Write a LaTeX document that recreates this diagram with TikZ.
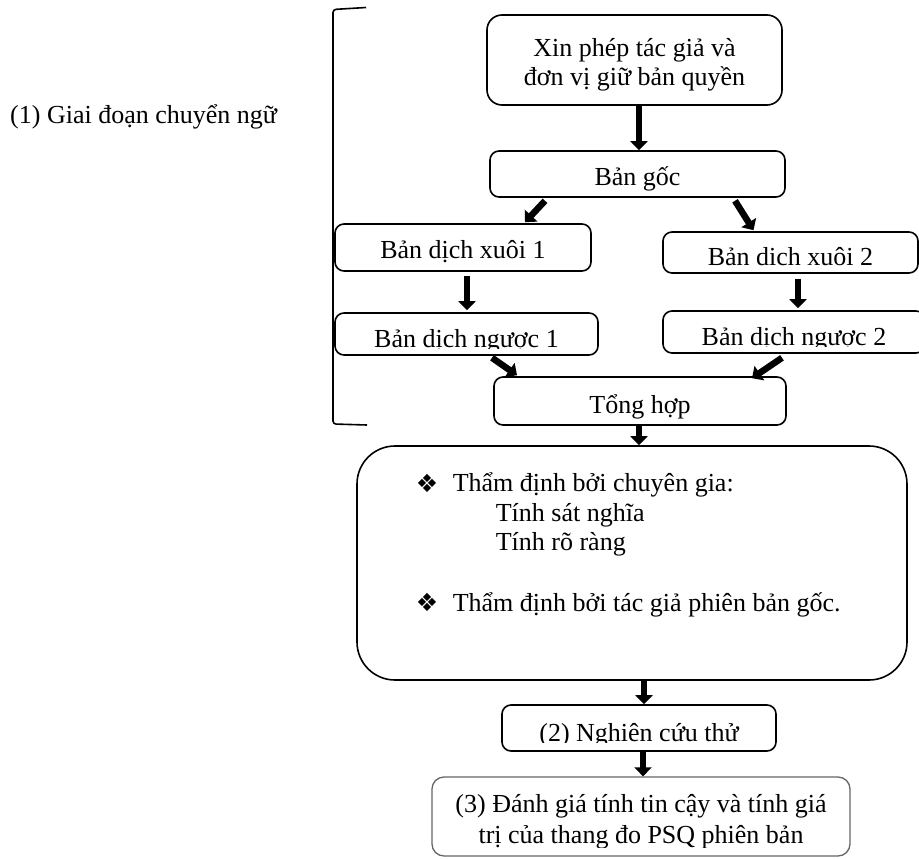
\documentclass[tikz,border=0pt]{standalone}
\usepackage{fontspec}
\setmainfont{Liberation Serif}
\newfontfamily\dejavu{DejaVu Sans}
\usetikzlibrary{arrows.meta}
\tikzset{
  box/.style={draw=black, line width=1.6pt, rounded corners=9pt, inner sep=0pt},
  inner/.style={draw=none, fill=none, minimum width=0pt, minimum height=0pt, inner sep=0pt, rounded corners=0pt},
  arr/.style={line width=6.5pt, -{Triangle[length=9pt,width=17pt]}},
  bracket/.style={line width=1.6pt, rounded corners=3pt},
}
% text line placed inside a box (yshift from the box centre, positive = up)
\newcommand\bxl[2]{\node[inner,anchor=base] at ([yshift=#1]path picture bounding box.center) {#2};}
% left-aligned text line inside a box
\newcommand\bxw[3]{\node[inner,anchor=base west] at ([xshift=#1,yshift=#2]path picture bounding box.center) {#3};}
% bullet inside a box
\newcommand\bxb[2]{\node[inner,anchor=center] at ([xshift=#1,yshift=#2]path picture bounding box.center) {\dejavu\fontsize{25}{25}\selectfont ❖};}
% clip the text of a box some distance above its bottom
\newcommand\bxclip[1]{\clip ([yshift=#1]path picture bounding box.south west) rectangle (path picture bounding box.north east);}
\begin{document}
\begin{tikzpicture}[x=1pt,y=-1pt,font=\fontsize{26}{30}\selectfont]
\fill[white] (0,0) rectangle (919,859);
\useasboundingbox (0,0) rectangle (919,859);

% bracket and stage label
\draw[bracket] (366,7.5) -- (333,9.5) -- (333,424) -- (367,425);
\node[anchor=base west,inner sep=0pt] (lbl) at (10,123) {(1) Giai đoạn chuyển ngữ};

% boxes
\node[box, rounded corners=15pt, minimum width=295pt, minimum height=90pt,
  path picture={\bxl{3pt}{Xin phép tác giả và}\bxl{-25pt}{đơn vị giữ bản quyền}}]
  (b1) at (634.5,60) {};
\node[box, minimum width=295pt, minimum height=46pt,
  path picture={\bxl{-11pt}{Bản gốc}}]
  (b2) at (637.5,174) {};
\node[box, minimum width=256pt, minimum height=47pt,
  path picture={\bxl{-10.5pt}{Bản dịch xuôi 1}}]
  (x1) at (463,247.5) {};
\node[box, minimum width=255pt, minimum height=41pt,
  path picture={\bxl{-12.5pt}{Bản dich xuôi 2}}]
  (x2) at (790.5,252.5) {};
\node[box, minimum width=263pt, minimum height=42pt,
  path picture={\bxclip{7pt}\bxl{-13pt}{Bản dịch ngược 1}}]
  (n1) at (466.5,334) {};
\node[box, minimum width=262pt, minimum height=42pt,
  path picture={\bxclip{7pt}\bxl{-13pt}{Bản dịch ngược 2}}]
  (n2) at (794,332) {};
\node[box, minimum width=292pt, minimum height=48pt,
  path picture={\bxl{-12pt}{Tổng hợp}}]
  (T) at (640,401) {};
\node[box, rounded corners=38pt, minimum width=550pt, minimum height=234pt,
  path picture={%
    \bxb{-205pt}{80pt}\bxw{-180pt}{72pt}{Thẩm định bởi chuyên gia:}%
    \bxw{-137pt}{42pt}{Tính sát nghĩa}%
    \bxw{-137pt}{13pt}{Tính rõ ràng}%
    \bxb{-205pt}{-39pt}\bxw{-180pt}{-48pt}{Thẩm định bởi tác giả phiên bản gốc.}}]
  (big) at (632,563) {};
\node[box, minimum width=274pt, minimum height=46pt,
  path picture={\bxclip{9pt}\bxl{-13pt}{(2) Nghiên cứu thử}}]
  (P2) at (639,728) {};
\node[box, draw=black!60, line width=1.3pt, rounded corners=12pt,
  minimum width=418pt, minimum height=79pt,
  path picture={\bxclip{9pt}\bxl{4.5pt}{(3) Đánh giá tính tin cậy và tính giá}\bxl{-26.5pt}{trị của thang đo PSQ phiên bản}}]
  (P3) at (641,816.5) {};

% connectors
\draw[arr] ([xshift=4.5pt]b1.south) -- ([xshift=1.5pt]b2.north);
\draw[arr] ([xshift=-92.5pt,yshift=-3pt]b2.south) -- ([xshift=62pt,yshift=1pt]x1.north);
\draw[arr] ([xshift=97.5pt,yshift=-3pt]b2.south) -- ([xshift=-37pt,yshift=1pt]x2.north);
\draw[arr] ([xshift=4pt,yshift=-4pt]x1.south) -- ([xshift=0.5pt,yshift=2pt]n1.north);
\draw[arr] ([xshift=7.5pt,yshift=-5pt]x2.south) -- ([xshift=4pt,yshift=2pt]n2.north);
\draw[arr] ([xshift=25.5pt,yshift=-2pt]n1.south) -- ([xshift=-123pt,yshift=1pt]T.north);
\draw[arr] ([xshift=-12pt,yshift=-4pt]n2.south) -- ([xshift=112pt,yshift=-2pt]T.north);
\draw[arr] ([xshift=-1pt]T.south) -- ([xshift=7pt]big.north);
\draw[arr] ([xshift=12pt]big.south) -- ([xshift=5pt]P2.north);
\draw[arr] ([xshift=4pt]P2.south) -- ([xshift=2pt]P3.north);
\end{tikzpicture}
\end{document}
